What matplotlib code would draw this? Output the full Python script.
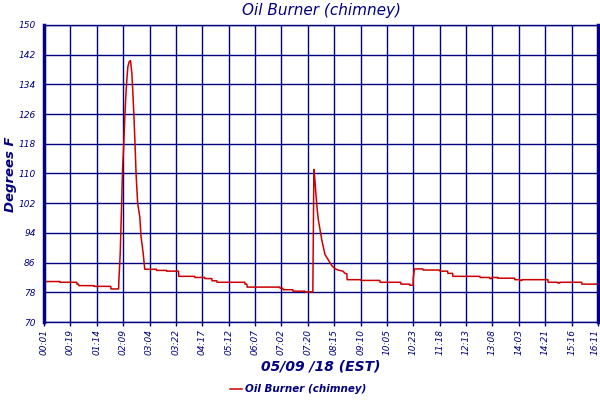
import matplotlib
matplotlib.use("Agg")
import matplotlib.pyplot as plt
from matplotlib.transforms import ScaledTranslation

# sample position (10 samples per labelled tick) and temperature in degrees F
sample = [0, 6.0, 6.1, 12.4, 12.5, 13.1, 13.2, 18.9, 19.0, 25.3, 25.4, 28.3,
          28.4, 28.9, 29.4, 29.8, 30.2, 30.6, 31.0, 31.4, 31.8, 32.3, 32.8,
          33.3, 33.7, 34.1, 34.5, 34.9, 35.5, 36.3, 36.8, 37.6, 38.2, 42.6,
          42.7, 46.4, 46.5, 51.0, 51.1, 57.1, 57.2, 60.9, 61.0, 63.6, 63.7,
          65.5, 65.6, 76.1, 76.2, 76.9, 77.0, 89.4, 89.5, 90.5, 90.6, 94.3,
          94.4, 98.9, 99.0, 101.9, 102.0, 102.3, 102.7, 103.1, 103.6, 104.0,
          104.6, 105.3, 106.5, 108.4, 109.2, 110.3, 111.4, 113.3, 114.1,
          114.8, 114.9, 120.1, 120.2, 127.3, 127.4, 135.2, 135.3, 138.6,
          138.7, 139.9, 140.0, 140.4, 143.6, 143.7, 150.0, 150.1, 153.0,
          153.1, 154.9, 155.0, 165.2, 165.3, 168.9, 169.0, 169.7, 169.8,
          172.0, 172.1, 178.4, 178.5, 180.3, 180.4, 181.1, 181.2, 191.0,
          191.1, 194.7, 194.8, 195.5, 195.6, 203.8, 203.9, 210]
temp_f = [80.9, 80.9, 80.7, 80.7, 80.2, 80.2, 79.8, 79.8, 79.6, 79.6, 78.9,
          78.9, 81.3, 88.5, 101.0, 111.5, 117.2, 124.4, 130.7, 135.2, 138.8,
          140.1, 140.4, 137.0, 131.6, 125.3, 118.1, 110.0, 102.0, 98.4, 93.0,
          88.5, 84.2, 84.2, 83.9, 83.9, 83.7, 83.7, 82.3, 82.3, 82.0, 82.0,
          81.7, 81.7, 81.1, 81.1, 80.7, 80.7, 80.2, 80.2, 79.4, 79.4, 79.1,
          79.1, 78.7, 78.7, 78.3, 78.3, 78.1, 78.1, 86.2, 111.1, 108.2, 104.2,
          100.0, 97.5, 95.0, 92.1, 88.2, 86.0, 85.1, 84.4, 84.0, 83.7, 83.1,
          83.0, 81.4, 81.4, 81.2, 81.2, 80.7, 80.7, 80.2, 80.2, 79.9, 79.9,
          82.0, 84.3, 84.3, 84.0, 84.0, 83.7, 83.7, 83.1, 83.1, 82.3, 82.3,
          82.0, 82.0, 81.7, 81.7, 82.0, 82.0, 81.8, 81.8, 81.4, 81.4, 81.2,
          81.2, 81.4, 81.4, 80.7, 80.7, 80.5, 80.5, 80.7, 80.7, 80.2, 80.2]

time_labels = ["00:01", "00:19", "01:14", "02:09", "03:04", "03:22", "04:17",
               "05:12", "06:07", "07:02", "07:20", "08:15", "09:10", "10:05",
               "10:23", "11:18", "12:13", "13:08", "14:03", "14:21", "15:16",
               "16:11"]
y_ticks = [70, 78, 86, 94, 102, 110, 118, 126, 134, 142, 150]

navy = "#000080"
red = "#cc0000"

fig = plt.figure(figsize=(6, 4), dpi=100)
ax = fig.add_axes([0.0733, 0.195, 0.9234, 0.7425])

ax.plot(sample, temp_f, color=red, linewidth=1.1, label="Oil Burner (chimney)")

ax.set_xlim(0, 210)
ax.set_ylim(70, 150)
ax.set_xticks([i * 10 for i in range(len(time_labels))])
ax.set_xticklabels(time_labels, rotation=90, fontsize=6.5, style="italic",
                   color=navy)
ax.set_yticks(y_ticks)
ax.set_yticklabels([str(v) for v in y_ticks], fontsize=6.5, style="italic",
                   color=navy)
ax.tick_params(axis="x", length=3, color=navy, width=1.0, pad=2)
ax.tick_params(axis="y", length=0, pad=6)

# keep the last time label inside the picture
last = ax.get_xticklabels()[-1]
last.set_transform(last.get_transform()
                   + ScaledTranslation(-3 / 100, 0, fig.dpi_scale_trans))

ax.grid(True, color=navy, linewidth=1.0)
ax.set_axisbelow(True)
for side in ["top", "bottom"]:
    ax.spines[side].set_color(navy)
    ax.spines[side].set_linewidth(1.0)
for side in ["left", "right"]:
    ax.spines[side].set_color(navy)
    ax.spines[side].set_linewidth(2.5)

fig.text(0.535, 0.975, "Oil Burner (chimney)", ha="center", va="center",
         fontsize=11, style="italic", color=navy)
fig.text(0.018, 0.565, "Degrees F", ha="center", va="center", rotation=90,
         fontsize=9.5, style="italic", weight="bold", color=navy)
fig.text(0.535, 0.085, "05/09 /18 (EST)", ha="center", va="center",
         fontsize=10, style="italic", weight="bold", color=navy)

fig.legend(loc="center", bbox_to_anchor=(0.497, 0.027), frameon=False,
           handlelength=1.1, handletextpad=0.3,
           prop={"style": "italic", "weight": "bold", "size": 7.5})
for t in fig.legends[0].get_texts():
    t.set_color(navy)

fig.savefig("out.png", dpi=100, facecolor="white")
